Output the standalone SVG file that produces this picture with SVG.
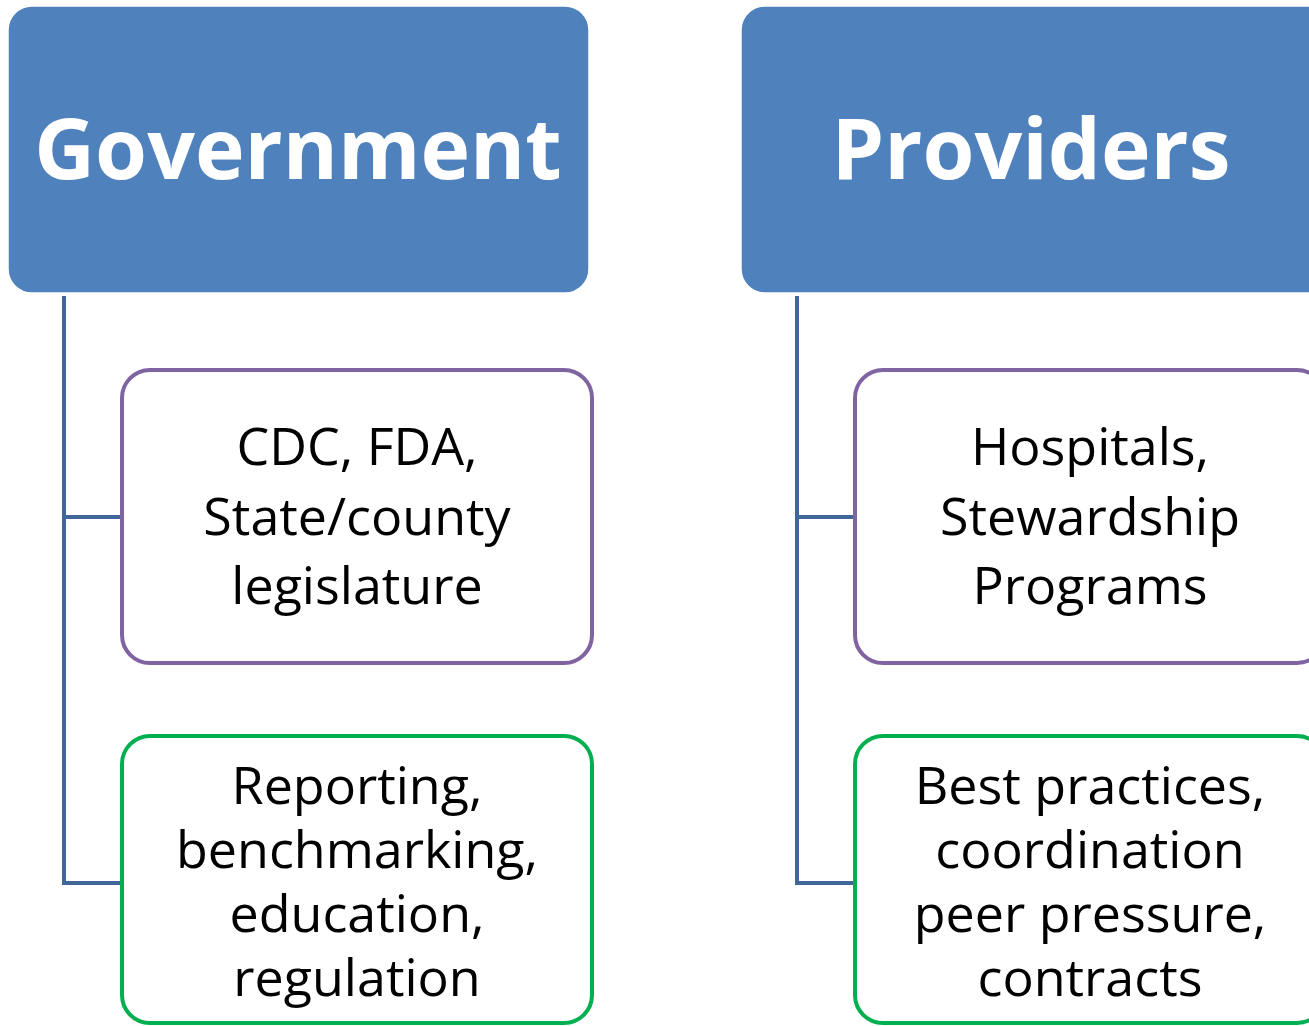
<svg xmlns="http://www.w3.org/2000/svg" width="1309" height="1026" viewBox="0 0 1309 1026">
<style>
.head{fill:#4F81BD;stroke:#ffffff;stroke-width:1.5}
.ht{font-family:"Open Sans","Liberation Sans",sans-serif;font-weight:bold;font-size:84px;fill:#ffffff;text-anchor:middle}
.purple{fill:#ffffff;stroke:#8064A2;stroke-width:4}
.green{fill:#ffffff;stroke:#00B050;stroke-width:4}
.ct{font-family:"Open Sans","Liberation Sans",sans-serif;font-size:52px;fill:#000000;text-anchor:middle}
.conn{fill:none;stroke:#41679A;stroke-width:4}
</style>
<g id="connectors">
<path class="conn" d="M64 296 V883 H122 M64 517 H122"/>
<path class="conn" d="M797 296 V883 H855 M797 517 H855"/>
</g>
<g id="government">
<rect class="head" x="8" y="6" width="581" height="287" rx="24"/>
<text class="ht" x="298" y="179">Government</text>
</g>
<g id="providers">
<rect class="head" x="741" y="6" width="590" height="287" rx="24"/>
<text class="ht" x="1031" y="179">Providers</text>
</g>
<g id="gov-agencies">
<rect class="purple" x="122" y="370" width="470" height="293" rx="28"/>
<text class="ct" x="357" y="465">CDC, FDA,</text>
<text class="ct" x="357" y="535">State/county</text>
<text class="ct" x="357" y="604">legislature</text>
</g>
<g id="gov-tools">
<rect class="green" x="122" y="736" width="470" height="287" rx="28"/>
<text class="ct" x="357" y="804">Reporting,</text>
<text class="ct" x="357" y="868">benchmarking,</text>
<text class="ct" x="357" y="932">education,</text>
<text class="ct" x="357" y="996">regulation</text>
</g>
<g id="prov-orgs">
<rect class="purple" x="855" y="370" width="470" height="293" rx="28"/>
<text class="ct" x="1090" y="465">Hospitals,</text>
<text class="ct" x="1090" y="535">Stewardship</text>
<text class="ct" x="1090" y="604">Programs</text>
</g>
<g id="prov-tools">
<rect class="green" x="855" y="736" width="470" height="287" rx="28"/>
<text class="ct" x="1090" y="804">Best practices,</text>
<text class="ct" x="1090" y="868">coordination</text>
<text class="ct" x="1090" y="932">peer pressure,</text>
<text class="ct" x="1090" y="996">contracts</text>
</g>
</svg>
